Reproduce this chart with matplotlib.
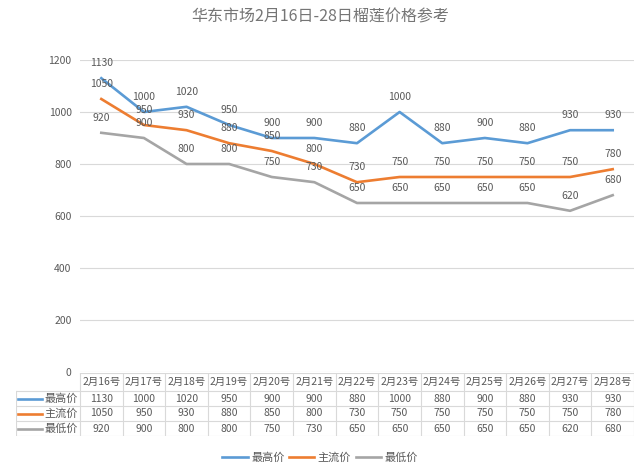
#!/usr/bin/env python3
"""Durian price chart (East China market, Feb 16-28) with data table below."""

import matplotlib
matplotlib.use("Agg")
import matplotlib.pyplot as plt

plt.rcParams["font.family"] = ["Noto Sans CJK SC", "DejaVu Sans"]

days = ["2月16号", "2月17号", "2月18号", "2月19号", "2月20号", "2月21号", "2月22号",
        "2月23号", "2月24号", "2月25号", "2月26号", "2月27号", "2月28号"]
series_names = ["最高价", "主流价", "最低价"]
high = [1130, 1000, 1020, 950, 900, 900, 880, 1000, 880, 900, 880, 930, 930]
main = [1050, 950, 930, 880, 850, 800, 730, 750, 750, 750, 750, 750, 780]
low = [920, 900, 800, 800, 750, 730, 650, 650, 650, 650, 650, 620, 680]
colors = ["#5B9BD5", "#ED7D31", "#A5A5A5"]

TEXT = "#595959"
GRID = "#D9D9D9"
W, H = 640, 474

fig = plt.figure(figsize=(W / 100, H / 100), dpi=100)
ax = fig.add_axes([80 / W, 1 - 372 / H, 554 / W, 312 / H])

x = list(range(len(days)))
for name, vals, c in zip(series_names, [high, main, low], colors):
    ax.plot(x, vals, color=c, lw=1.9, solid_joinstyle="round", label=name)
    for xi, v in zip(x, vals):
        ax.annotate(str(v), (xi, v), xytext=(0, 11), textcoords="offset points",
                    ha="center", va="center", fontsize=7.5, color=TEXT)

ax.set_xlim(-0.5, len(days) - 0.5)
ax.set_ylim(0, 1200)
ax.set_yticks(range(0, 1201, 200))
ax.tick_params(axis="y", length=0, pad=6, labelsize=7.5, labelcolor=TEXT)
ax.set_xticks([])
ax.grid(axis="y", color=GRID, lw=0.8)
ax.set_axisbelow(True)
for s in ax.spines.values():
    s.set_visible(False)

fig.text(0.5, 1 - 17 / H, "华东市场2月16日-28日榴莲价格参考", ha="center", va="center",
         fontsize=11.5, color="#757575")

# data table under the plot
tab = fig.add_axes([16 / W, 1 - 436 / H, 618 / W, 63 / H])
tab.set_xlim(-2.0, len(days) - 0.5)
tab.set_ylim(436, 373)
tab.axis("off")
rows = [373, 391, 406, 421, 436]
n = len(days)
tab.plot([-0.5, n - 0.5], [rows[0], rows[0]], color=GRID, lw=0.8)
for r in rows[1:]:
    tab.plot([-2.0, n - 0.5], [r, r], color=GRID, lw=0.8)
for k in range(n + 1):
    tab.plot([k - 0.5, k - 0.5], [rows[0], rows[-1]], color=GRID, lw=0.8)
tab.plot([-2.0, -2.0], [rows[1], rows[-1]], color=GRID, lw=0.8)

for k, d in enumerate(days):
    tab.text(k, (rows[0] + rows[1]) / 2, d, ha="center", va="center",
             fontsize=7.5, color=TEXT)
for j, (name, vals, c) in enumerate(zip(series_names, [high, main, low], colors)):
    yc = (rows[j + 1] + rows[j + 2]) / 2
    tab.plot([-1.95, -1.38], [yc, yc], color=c, lw=1.9)
    tab.text(-1.33, yc, name, ha="left", va="center", fontsize=8, color=TEXT)
    for k, v in enumerate(vals):
        tab.text(k, yc, str(v), ha="center", va="center", fontsize=7.5, color=TEXT)

handles, labels = ax.get_legend_handles_labels()
fig.legend(handles, labels, loc="center", bbox_to_anchor=(0.5, 1 - 458 / H), ncol=3,
           frameon=False, fontsize=8, labelcolor=TEXT, handlelength=2.3,
           handletextpad=0.3, columnspacing=0.4)

fig.savefig("out.png", dpi=100)
